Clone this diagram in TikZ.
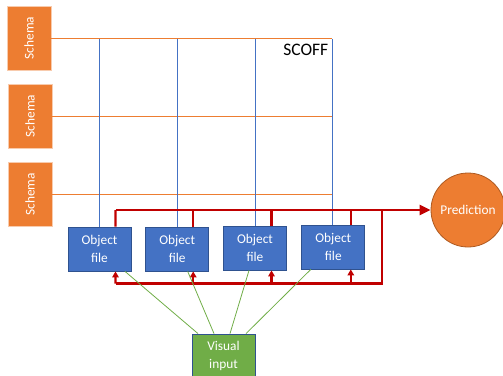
\documentclass[tikz,border=0pt]{standalone}
\usepackage{fontspec}
\setmainfont{Carlito}
\usetikzlibrary{arrows.meta,calc}
\definecolor{oorange}{HTML}{ED7D31}
\definecolor{oorangedk}{HTML}{AE5A21}
\definecolor{oblue}{HTML}{4472C4}
\definecolor{obluedk}{HTML}{2F528F}
\definecolor{ogreen}{HTML}{70AD47}
\definecolor{ored}{HTML}{C00000}
\tikzset{
  schemabox/.style={fill=oorange, draw=oorange!40, line width=0.6bp, minimum width=44bp, minimum height=64bp, inner sep=0pt, text=white, font=\fontsize{13.4}{16}\selectfont},
  objbox/.style={fill=oblue, draw=obluedk, line width=0.8bp, minimum width=63bp, minimum height=44bp, inner sep=0pt, text=white, align=center, font=\fontsize{13.4}{18}\selectfont},
  visbox/.style={fill=ogreen, draw=obluedk, line width=0.8bp, minimum width=63bp, minimum height=44bp, inner sep=0pt, text=white, align=center, font=\fontsize{13.4}{18}\selectfont},
  predcirc/.style={circle, fill=oorange, draw=oorangedk, line width=0.8bp, minimum size=74bp, inner sep=0pt, text=white, font=\fontsize{13.4}{16}\selectfont},
  gridh/.style={draw=oorange, line width=1bp},
  gridv/.style={draw=oblue, line width=0.8bp},
  redline/.style={draw=ored, line width=2.2bp},
  redarrow/.style={redline, -{Triangle[width=6.5bp,length=6bp]}},
  bigarrow/.style={redline, -{Triangle[width=10bp,length=11bp]}},
  greenline/.style={draw=ogreen, line width=0.8bp},
}
\begin{document}
\begin{tikzpicture}[x=1bp,y=-1bp]
\useasboundingbox (0,0) rectangle (503,375);
% schema boxes
\node[schemabox] (s1) at (29,38) {\rotatebox{90}{Schema}};
\node[schemabox] (s2) at (30,116) {\rotatebox{90}{Schema}};
\node[schemabox] (s3) at (30,194.5) {\rotatebox{90}{Schema}};
% object files
\node[objbox] (o1) at (99.5,249) {Object\\file};
\node[objbox] (o2) at (177.2,249) {Object\\file};
\node[objbox] (o3) at (255,248) {Object\\file};
\node[objbox] (o4) at (333.3,247) {Object\\file};
% visual input
\node[visbox] (vis) at (223.5,356) {Visual\\input};
% prediction
\node[predcirc] (pred) at (468,210) {Prediction};
% SCOFF
\node[anchor=base east, inner sep=0pt, font=\fontsize{17.6}{20}\selectfont] (scoff) at (328.5,55) {SCOFF};
% grid coordinates
\coordinate (h1) at (332,38.5);
\coordinate (h2) at (332,116);
\coordinate (h3) at (332,194);
\coordinate (v1) at (99.5,38.5);
\coordinate (v2) at (177.2,38.5);
\coordinate (v3) at (255,38.5);
\coordinate (v4) at (332,38.5);
\draw[gridh] (s1.east |- h1) -- (h1);
\draw[gridh] (s2.east |- h2) -- (h2);
\draw[gridh] (s3.east |- h3) -- (h3);
\draw[gridv] (v1) -- (o1.north);
\draw[gridv] (v2) -- (o2.north);
\draw[gridv] (v3) -- (o3.north);
\draw[gridv] (v4) -- (v4 |- o4.north);
% red top bus
\coordinate (t1) at (115.5,210);
\coordinate (tr) at (382,210);
\coordinate (b1) at (115.5,283.5);
\coordinate (br) at (382,283.5);
\draw[redline] ([xshift=16bp]o1.north) -- (t1);
\draw[bigarrow] (t1) -- (pred.west);
\draw[redline] ([xshift=16bp]o2.north) -- ([xshift=16bp]o2.north |- t1);
\draw[redline] ([xshift=16.5bp]o3.north) -- ([xshift=16.5bp]o3.north |- t1);
\draw[redline] ([xshift=17.5bp]o4.north) -- ([xshift=17.5bp]o4.north |- t1);
% red feedback loop
\draw[redline, line join=miter] (tr) -- (br) -- (b1);
\draw[redarrow] (b1) -- ([xshift=16bp]o1.south);
\draw[redarrow] ([xshift=16bp]o2.south |- b1) -- ([xshift=16bp]o2.south);
\draw[redarrow] ([xshift=16.5bp]o3.south |- b1) -- ([xshift=16.5bp]o3.south);
\draw[redarrow] ([xshift=17.5bp]o4.south |- b1) -- ([xshift=17.5bp]o4.south);
% green lines
\draw[greenline] ([xshift=25.5bp]o1.south) -- ([xshift=-25.5bp]vis.north);
\draw[greenline] ([xshift=10.5bp]o2.south) -- ([xshift=-9.5bp]vis.north);
\draw[greenline] ([xshift=-6bp]o3.south) -- ([xshift=6.5bp]vis.north);
\draw[greenline] ([xshift=-22.5bp]o4.south) -- ([xshift=22.5bp]vis.north);
\end{tikzpicture}
\end{document}
